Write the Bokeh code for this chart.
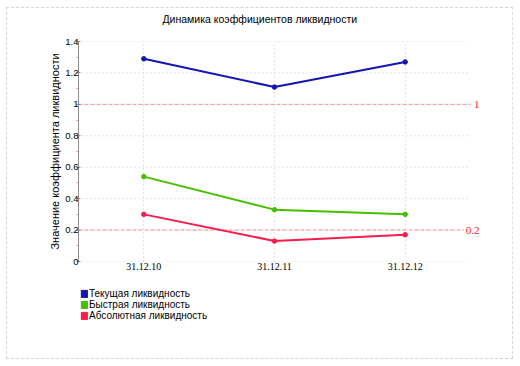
from bokeh.plotting import figure
from bokeh.layouts import column
from bokeh.models import (Range1d, FixedTicker, Label, Legend, LegendItem, ColumnDataSource, Title)
from bokeh.embed import file_html
from bokeh.resources import INLINE

# ---- data ----
dates = ["31.12.10", "31.12.11", "31.12.12"]
current_liq = [1.29, 1.11, 1.27]
quick_liq = [0.54, 0.33, 0.30]
absolute_liq = [0.30, 0.13, 0.17]
series_names = ["Текущая ликвидность", "Быстрая ликвидность", "Абсолютная ликвидность"]
ref_levels = [1, 0.2]
ref_labels = ["1", "0.2"]
y_ticks = [0, 0.2, 0.4, 0.6, 0.8, 1.0, 1.2, 1.4]
y_tick_labels = ["0", "0.2", "0.4", "0.6", "0.8", "1", "1.2", "1.4"]
y_minor = [0.1, 0.3, 0.5, 0.7, 0.9, 1.1, 1.3]

colors = ["#1414b4", "#44c000", "#f81c4c"]
SANS = "Liberation Sans"
SERIF = "Liberation Serif"

n = len(dates)
x_pos = [i + 0.5 for i in range(n)]          # category centres
x_end = n + 12 / 131                         # a little room on the right for the level labels

W = 507
p = figure(x_range=Range1d(0, x_end), y_range=Range1d(0, 1.4),
           frame_width=406, frame_height=220,
           min_border_left=71, min_border_right=30, min_border_top=33, min_border_bottom=24,
           output_backend="svg", toolbar_location=None,
           title="Динамика коэффициентов ликвидности")
p.outline_line_color = None
p.background_fill_color = "white"

p.title.text_font = SANS
p.title.text_font_size = "10.5px"
p.title.text_font_style = "normal"
p.title.text_color = "#000000"
p.title.align = "left"
p.title.offset = 84
p.title.standoff = 0
# spacing between the title and the plot area
p.add_layout(Title(text=" ", text_font_size="1px", standoff=14), "above")

# y axis
ya = p.yaxis[0]
ya.ticker = FixedTicker(ticks=y_ticks, minor_ticks=y_minor)
ya.major_label_overrides = {t: l for t, l in zip(y_ticks, y_tick_labels)}
ya.major_label_text_font = SANS
ya.major_label_text_font_size = "9.5px"
ya.major_label_text_color = "#000000"
ya.major_label_standoff = -2
ya.axis_line_color = "#909090"
ya.major_tick_line_color = "#909090"
ya.major_tick_in = 2
ya.major_tick_out = 2
ya.minor_tick_line_color = "#ff8080"
ya.minor_tick_in = 0
ya.minor_tick_out = 2
ya.axis_label = "Значение коэффициента ликвидности"
ya.axis_label_text_font = SANS
ya.axis_label_text_font_size = "11px"
ya.axis_label_text_font_style = "normal"
ya.axis_label_text_color = "#000000"
ya.axis_label_standoff = 1

# x axis
xa = p.xaxis[0]
xa.ticker = FixedTicker(ticks=x_pos, minor_ticks=[])
xa.major_label_overrides = {x: d for x, d in zip(x_pos, dates)}
xa.axis_line_color = None
xa.major_tick_line_color = None
xa.minor_tick_line_color = None
xa.major_tick_in = 0
xa.major_tick_out = 0
xa.major_label_text_font = SERIF
xa.major_label_text_font_size = "10px"
xa.major_label_text_color = "#000000"
xa.major_label_standoff = 1

# grids
p.xgrid[0].grid_line_color = "#c8c8c8"
p.xgrid[0].grid_line_dash = "1 3"
p.ygrid[0].grid_line_color = None
p.segment(x0=[0] * len(y_ticks), x1=[n] * len(y_ticks), y0=y_ticks, y1=y_ticks,
          line_color="#c8c8c8", line_dash="1 3", line_width=1)

# reference levels
p.segment(x0=[0] * len(ref_levels), x1=[n] * len(ref_levels), y0=ref_levels, y1=ref_levels,
          line_color="#ff9090", line_dash="4 2", line_width=1)
for lev, lab in zip(ref_levels, ref_labels):
    p.add_layout(Label(x=x_end, y=lev, x_offset=-1, text=lab, text_align="right",
                       text_baseline="middle", text_color="#ff2020",
                       text_font=SERIF, text_font_size="11px",
                       background_fill_color="white", padding=2))

# series
for vals, col in zip([current_liq, quick_liq, absolute_liq], colors):
    src = ColumnDataSource(dict(x=x_pos, y=vals))
    p.line("x", "y", source=src, line_color=col, line_width=2)
    p.scatter("x", "y", source=src, size=4.5, marker="circle",
              fill_color=col, line_color=col)

# ---- legend strip below the chart ----
pl = figure(width=W, height=73, x_range=Range1d(0, 1), y_range=Range1d(0, 1),
            min_border=0, x_axis_location=None, y_axis_location=None,
            output_backend="svg", toolbar_location=None)
pl.outline_line_color = None
pl.grid.visible = False
nan = float("nan")
items = []
for name, col in zip(series_names, colors):
    # legend swatch only (no drawable geometry)
    proxy = pl.quad(left=[nan], right=[nan], top=[nan], bottom=[nan],
                    fill_color=col, line_color=col)
    items.append(LegendItem(label=name, renderers=[proxy]))
legend = Legend(items=items, location=(2, 37.5), orientation="vertical",
                glyph_width=8, glyph_height=9, label_height=11, label_width=20,
                spacing=0, padding=0, margin=0, label_standoff=1,
                label_text_font=SANS, label_text_font_size="10px",
                label_text_color="#000000",
                background_fill_alpha=0, border_line_color=None)
pl.add_layout(legend, "center")

layout = column(p, pl, spacing=0)
layout.styles = {"border": "1px dashed #d4d4d4", "margin-left": "6px", "margin-top": "7px",
                 "width": f"{W}px"}

open("out.html", "w").write(file_html(layout, INLINE))
